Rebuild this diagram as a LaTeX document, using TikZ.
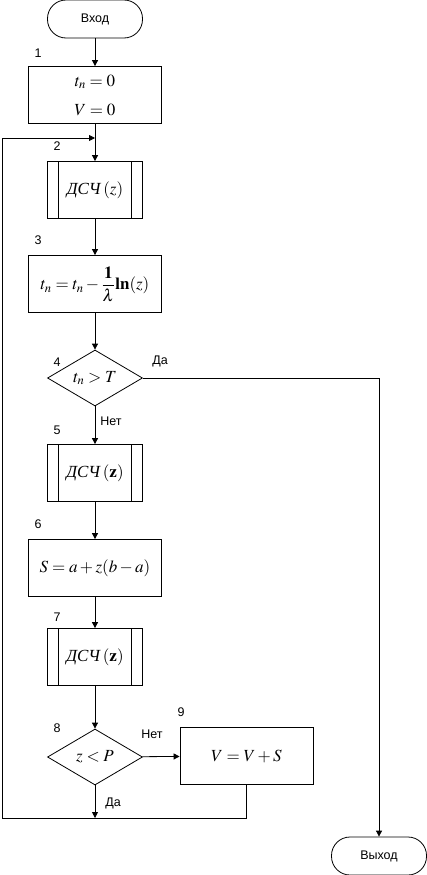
\documentclass[tikz,border=0pt]{standalone}
\usepackage{amsmath}
\usepackage{mathptmx}
\usepackage[no-math]{fontspec}
\setmainfont{Liberation Sans}
\newfontfamily\serifcyr{Liberation Serif}
\usetikzlibrary{arrows.meta,positioning,shapes.geometric,calc}
\newcommand{\dsch}{{\serifcyr\itshape ДСЧ}\,}

\begin{document}
\begin{tikzpicture}[x=1pt, y=-1pt, line width=0.8pt,
  term/.style={draw, rounded corners=18.5pt, minimum width=95pt, minimum height=38pt, font=\fontsize{12.5}{15}\selectfont},
  proc/.style={draw, minimum width=133pt, minimum height=57pt, inner sep=2pt, align=center, font=\fontsize{17}{20}\selectfont},
  sub/.style={proc, minimum width=95pt,
    path picture={\draw ([xshift=11pt]path picture bounding box.north west) -- ([xshift=11pt]path picture bounding box.south west);
      \draw ([xshift=-11pt]path picture bounding box.north east) -- ([xshift=-11pt]path picture bounding box.south east);}},
  dec/.style={draw, diamond, aspect=1.7, inner sep=0pt, minimum width=95pt, minimum height=56pt, font=\fontsize{17}{20}\selectfont},
  num/.style={font=\fontsize{12.5}{15}\selectfont},
  arr/.style={-{Triangle[length=6pt, width=6pt]}}]
\useasboundingbox (0,0) rectangle (427,875);
% main column
\node[term] (start) at (95,19) {Вход};
\node[proc] (b1) at (95,95) {$t_n = 0$\\[9pt]$V = 0$};
\node[sub] (b2) at (95,190) {\dsch$(z)$};
\node[proc] (b3) at (95,284) {$t_n = t_n - \dfrac{\mathbf{1}}{\lambda}\mathbf{ln}(z)$};
\node[dec] (d4) at (95,378) {$t_n > T$};
\node[sub] (b5) at (95,473) {\dsch$(\mathbf{z})$};
\node[proc] (b6) at (95,568) {$S = a + z(b - a)$};
\node[sub] (b7) at (95,657) {\dsch$(\mathbf{z})$};
\node[dec] (d8) at (95,757) {$z < P$};
\node[proc] (b9) at (246.5,756) {$V = V + S$};
\node[term] (stop) at (379,856) {Выход};
% block numbers
\node[num] (l1) at (38,53) {1};
\node[num] (l2) at (57,146) {2};
\node[num] (l3) at (38,240) {3};
\node[num] (l4) at (57,362) {4};
\node[num] (l5) at (57,430) {5};
\node[num] (l6) at (38,524) {6};
\node[num] (l7) at (57,617) {7};
\node[num] (l8) at (57,728) {8};
\node[num] (l9) at (181,712) {9};
% branch labels
\node[num] (yes4) at (160,361) {Да};
\node[num] (no4) at (111,421) {Нет};
\node[num] (no8) at (152,734) {Нет};
\node[num] (yes8) at (113,803) {Да};
% connectors
\coordinate (loopin) at (95,138);
\coordinate (merge) at (95,818);
\coordinate (corner) at (2,818);
\foreach \a/\b in {start/b1,b1/b2,b2/b3,b3/d4,d4/b5,b5/b6,b6/b7,b7/d8,d8/b9} \draw[arr] (\a) -- (\b);
\draw[arr] (d8.south) -- (merge);
\draw[arr] (b9.south) |- (corner) |- (loopin);
\draw[arr] (d4.east) -| (stop.north);
\end{tikzpicture}
\end{document}
